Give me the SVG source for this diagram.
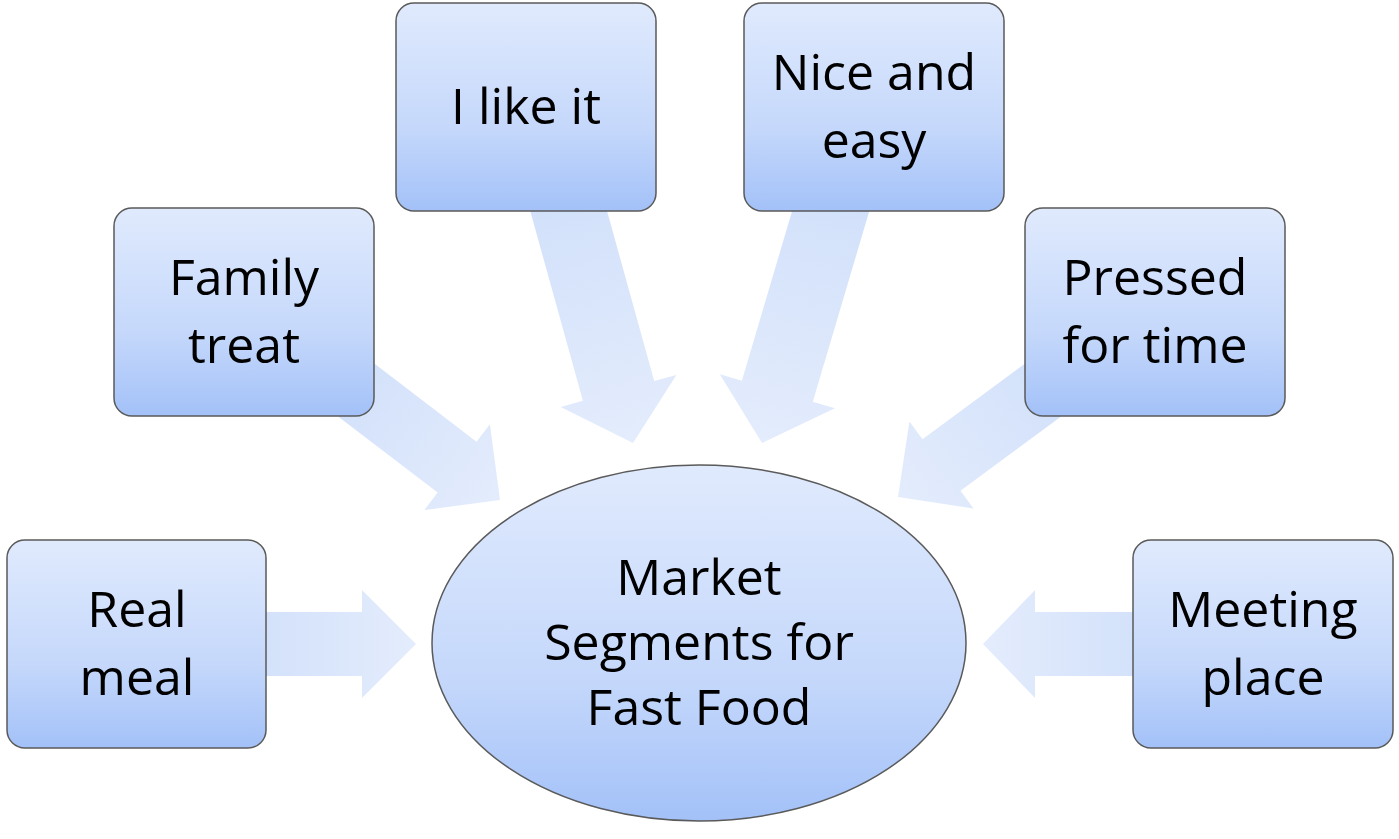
<svg xmlns="http://www.w3.org/2000/svg" width="1399" height="839" viewBox="0 0 1399 839">
<defs>
<linearGradient id="g" x1="0" y1="0" x2="0" y2="1"><stop offset="0" stop-color="#e0eafd"/><stop offset="0.6" stop-color="#c5d8fb"/><stop offset="1" stop-color="#a3c1f8"/></linearGradient>
<linearGradient id="ga" x1="0" y1="0" x2="1" y2="0"><stop offset="0" stop-color="#c8daf9"/><stop offset="1" stop-color="#dfe9fc"/></linearGradient>
</defs>
<style>
.box{fill:url(#g);stroke:#5a5a5a;stroke-width:1.5}
.arr{fill:url(#ga);opacity:0.85}
text{font-family:"Open Sans","Liberation Sans",sans-serif;font-size:50px;fill:#000;text-anchor:middle}
</style>
<rect width="1399" height="839" fill="#fff"/>
<g id="connectors">
<polygon class="arr" transform="translate(500,500) rotate(37.4)" points="-214,-32 -54,-32 -54,-54 0,0 -54,54 -54,32 -214,32"/>
<polygon class="arr" transform="translate(633,443) rotate(74.5)" points="-273,-37 -54,-37 -54,-60 0,0 -54,60 -54,37 -273,37"/>
<polygon class="arr" transform="translate(762,443) rotate(106.5)" points="-274,-37 -54,-37 -54,-60 0,0 -54,60 -54,37 -274,37"/>
<polygon class="arr" transform="translate(898,497) rotate(143.6)" points="-214,-32 -54,-32 -54,-54 0,0 -54,54 -54,32 -214,32"/>
<polygon class="arr" transform="translate(416,644) rotate(0)" points="-176,-32 -54,-32 -54,-54 0,0 -54,54 -54,32 -176,32"/>
<polygon class="arr" transform="translate(983,644) rotate(180)" points="-177,-32 -52,-32 -52,-54 0,0 -52,54 -52,32 -177,32"/>
</g>
<g id="center"><ellipse class="box" cx="699" cy="643" rx="267" ry="178"/>
<text x="699" y="595" font-size="46">Market</text><text x="699" y="660" font-size="46">Segments for</text><text x="699" y="725" font-size="46">Fast Food</text></g>
<g id="realmeal"><rect class="box" x="7" y="540" width="259" height="208" rx="18"/><text x="137" y="627">Real</text><text x="137" y="695">meal</text></g>
<g id="family"><rect class="box" x="114" y="208" width="260" height="208" rx="18"/><text x="244" y="295">Family</text><text x="244" y="363">treat</text></g>
<g id="likeit"><rect class="box" x="396" y="3" width="260" height="208" rx="18"/><text x="526" y="124">I like it</text></g>
<g id="nice"><rect class="box" x="744" y="3" width="260" height="208" rx="18"/><text x="874" y="90">Nice and</text><text x="874" y="158">easy</text></g>
<g id="pressed"><rect class="box" x="1025" y="208" width="260" height="208" rx="18"/><text x="1155" y="295">Pressed</text><text x="1155" y="363">for time</text></g>
<g id="meeting"><rect class="box" x="1133" y="540" width="260" height="208" rx="18"/><text x="1263" y="627">Meeting</text><text x="1263" y="695">place</text></g>
</svg>
